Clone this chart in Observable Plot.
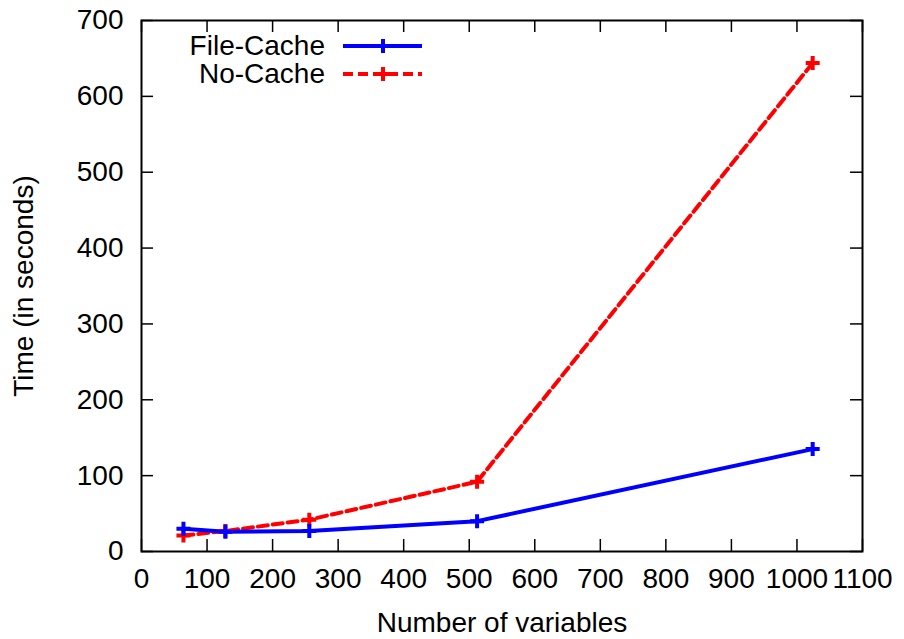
<!DOCTYPE html>
<html>
<head>
<meta charset="utf-8">
<script src="https://cdn.jsdelivr.net/npm/d3@7"></script>
<script src="https://cdn.jsdelivr.net/npm/@observablehq/plot@0.6"></script>
<style>
  html, body { margin: 0; padding: 0; background: white; }
  #wrap { position: relative; width: 904px; height: 639px; }
  #legend { position: absolute; left: 150px; top: 32px; font-family: "Liberation Sans", Arial, sans-serif; font-size: 28px; color: black; }
  .row { display: flex; align-items: center; height: 28px; }
  .row span { display: inline-block; width: 175px; text-align: right; margin-right: 18px; line-height: 28px; }
</style>
</head>
<body>
<div id="wrap"><div id="legend"></div></div>
<script>
const xValues = [64, 128, 256, 512, 1024];
const fileCache = [30, 26, 27, 40, 135];
const noCache = [21, 27, 42, 92, 644];
const xTicks = [0, 100, 200, 300, 400, 500, 600, 700, 800, 900, 1000, 1100];
const yTicks = [0, 100, 200, 300, 400, 500, 600, 700];
const seriesNames = ["File-Cache", "No-Cache"];

const rows = [];
xValues.forEach((x, i) => {
  rows.push({series: seriesNames[0], x, y: fileCache[i]});
  rows.push({series: seriesNames[1], x, y: noCache[i]});
});
const fc = rows.filter(d => d.series === seriesNames[0]);
const nc = rows.filter(d => d.series === seriesNames[1]);

const plusSymbol = {
  draw(context, size) {
    const r = Math.sqrt(size / Math.PI);
    context.moveTo(-r, 0); context.lineTo(r, 0);
    context.moveTo(0, -r); context.lineTo(0, r);
  }
};

const W = 904, H = 639, mL = 141, mR = 42, mT = 20, mB = 88;
const fw = W - mL - mR, fh = H - mT - mB, tick = 12;

const chart = Plot.plot({
  width: W, height: H,
  marginLeft: mL, marginRight: mR, marginTop: mT, marginBottom: mB,
  style: {fontFamily: "'Liberation Sans', Arial, sans-serif", fontSize: "28px", background: "white", color: "black"},
  x: {domain: [0, 1100]},
  y: {domain: [0, 700]},
  marks: [
    Plot.tickX(xTicks, {x: d => d, insetTop: fh - tick, stroke: "black", strokeWidth: 1.5}),
    Plot.tickX(xTicks, {x: d => d, insetBottom: fh - tick, stroke: "black", strokeWidth: 1.5}),
    Plot.tickY(yTicks, {y: d => d, insetRight: fw - tick, stroke: "black", strokeWidth: 1.5}),
    Plot.tickY(yTicks, {y: d => d, insetLeft: fw - tick, stroke: "black", strokeWidth: 1.5}),
    Plot.axisX({ticks: xTicks, tickSize: 0, tickPadding: 17, tickFormat: d => String(d),
      label: "Number of variables", labelAnchor: "center", labelArrow: "none", labelOffset: 80}),
    Plot.axisY({ticks: yTicks, tickSize: 0, tickPadding: 18, tickFormat: d => String(d),
      label: "Time (in seconds)", labelAnchor: "center", labelArrow: "none", labelOffset: 128}),
    Plot.line(nc, {x: "x", y: "y", stroke: "#ff0000", strokeWidth: 4, strokeDasharray: "10,5", strokeLinejoin: "miter"}),
    Plot.line(fc, {x: "x", y: "y", stroke: "#0000ff", strokeWidth: 4, strokeLinejoin: "miter"}),
    Plot.dot(nc, {x: "x", y: "y", symbol: plusSymbol, r: 7, stroke: "#ff0000", strokeWidth: 4, fill: "none"}),
    Plot.dot(fc, {x: "x", y: "y", symbol: plusSymbol, r: 7, stroke: "#0000ff", strokeWidth: 4, fill: "none"}),
    Plot.frame({stroke: "black", strokeWidth: 2})
  ]
});
document.getElementById("wrap").prepend(chart);

const styles = [
  {color: "#0000ff", dash: null},
  {color: "#ff0000", dash: "10,5"}
];
const legend = d3.select("#legend");
seriesNames.forEach((name, i) => {
  const row = legend.append("div").attr("class", "row");
  row.append("span").text(name);
  const svg = row.append("svg").attr("width", 80).attr("height", 28);
  svg.append("line").attr("x1", 0).attr("x2", 79).attr("y1", 14).attr("y2", 14)
    .attr("stroke", styles[i].color).attr("stroke-width", 4)
    .attr("stroke-dasharray", styles[i].dash);
  svg.append("path").attr("d", "M33,14H47M40,7V21")
    .attr("stroke", styles[i].color).attr("stroke-width", 4).attr("fill", "none");
});
</script>
</body>
</html>
